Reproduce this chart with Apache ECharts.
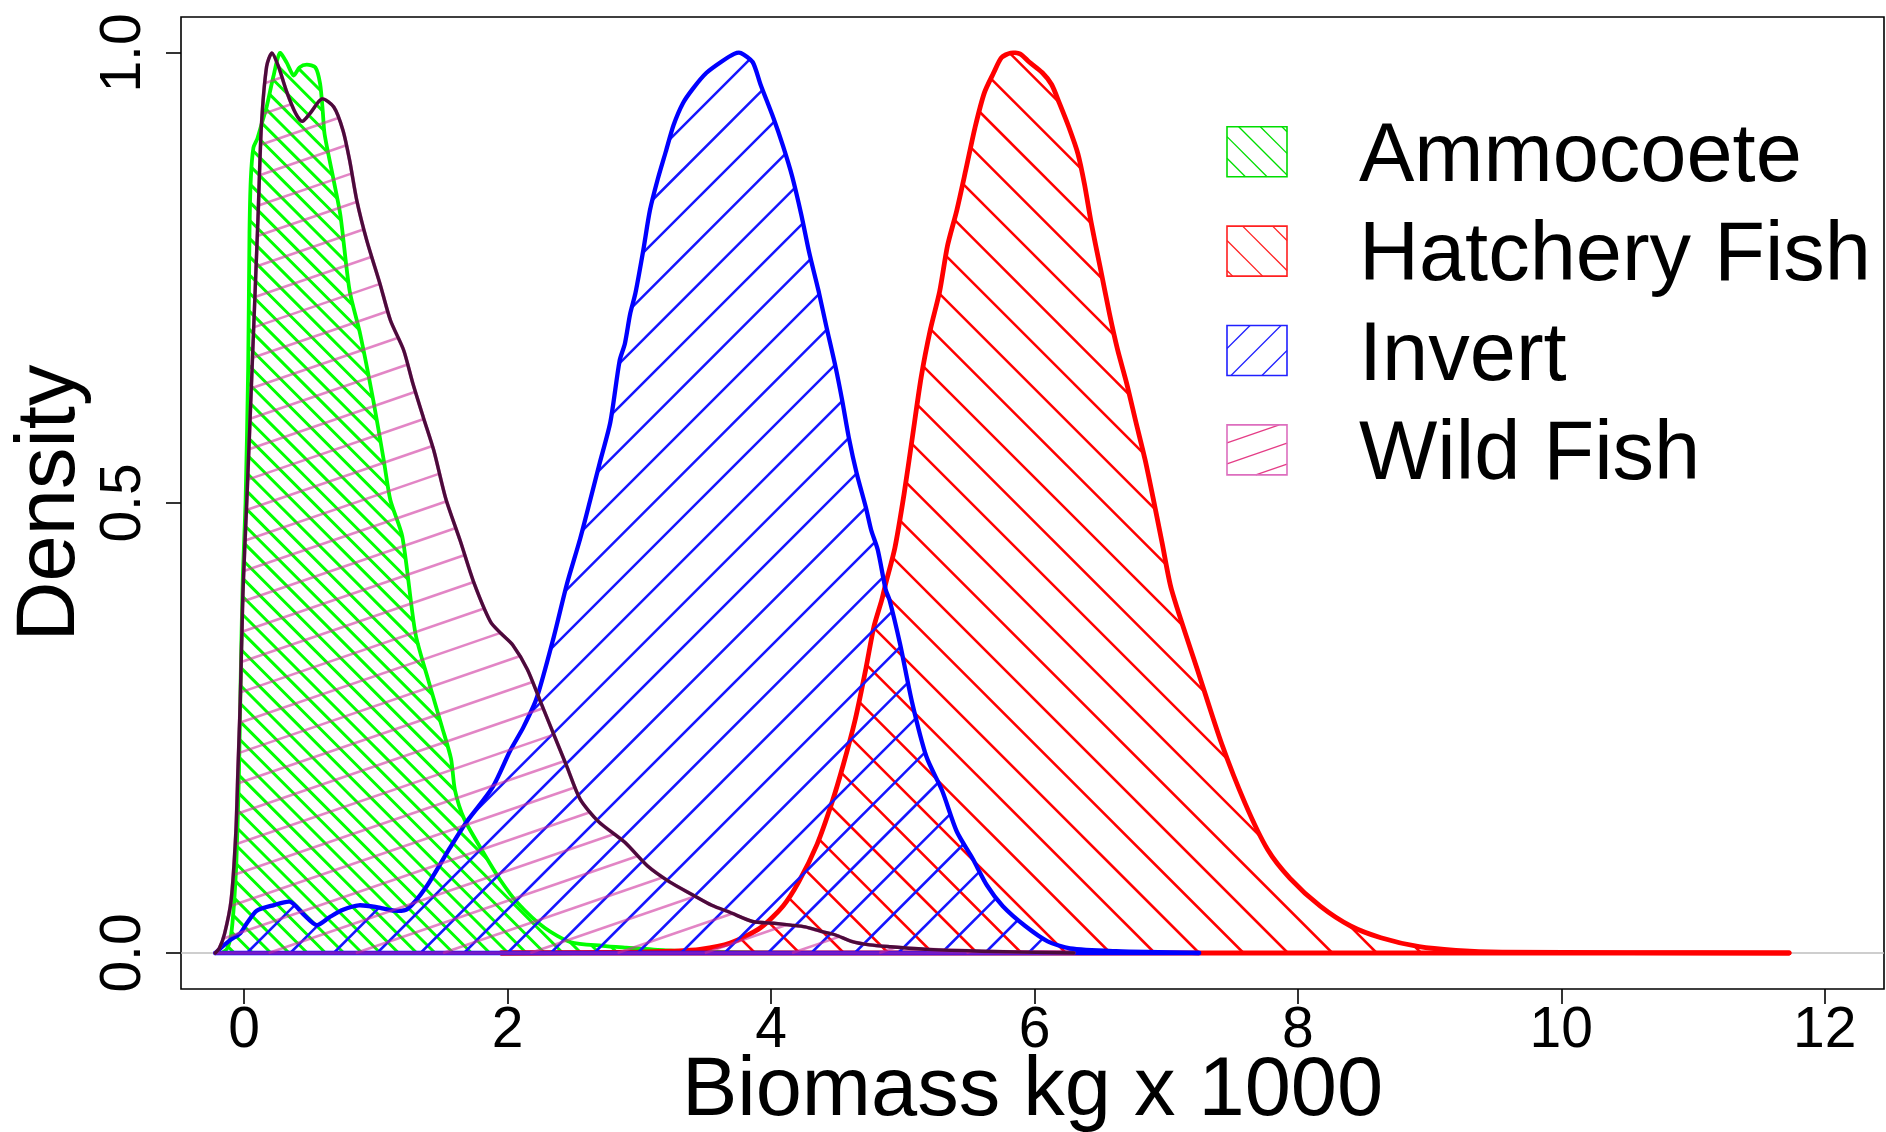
<!DOCTYPE html>
<html>
<head>
<meta charset="utf-8">
<script src="https://cdn.jsdelivr.net/npm/echarts@6/dist/echarts.min.js"></script>
<style>
html,body{margin:0;padding:0;background:#fff;}
#chart{width:1886px;height:1132px;}
</style>
</head>
<body>
<div id="chart"></div>
<script>
// ---------------- data ----------------
const xTicks = [0, 2, 4, 6, 8, 10, 12];
const yTicks = [0, 0.5, 1.0];
const seriesNames = ['Ammocoete', 'Hatchery Fish', 'Invert', 'Wild Fish'];
const xTitle = 'Biomass kg x 1000';
const yTitle = 'Density';

const ammocoeteX = [-0.17,-0.13,-0.10,-0.08,-0.06,-0.04,-0.025,-0.01,0.01,0.03,0.04,0.05,0.07,0.10,0.14,0.17,0.22,0.27,0.32,0.375,0.42,0.475,0.54,0.576,0.596,0.61,0.68,0.73,0.80,0.88,0.98,1.06,1.11,1.20,1.30,1.40,1.50,1.57,1.60,1.67,1.81,1.94,2.08,2.28,2.48,2.72,2.90,3.20,3.60,4.30];
const ammocoeteY = [0,0.005,0.02,0.05,0.10,0.20,0.32,0.42,0.50,0.65,0.80,0.86,0.895,0.905,0.925,0.94,0.973,1.0,0.99,0.975,0.984,0.987,0.984,0.966,0.936,0.91,0.858,0.82,0.736,0.688,0.614,0.547,0.503,0.463,0.355,0.302,0.252,0.216,0.181,0.149,0.113,0.082,0.055,0.028,0.012,0.008,0.006,0.003,0.001,0];

const hatcheryX = [1.95,3.0,3.24,3.46,3.69,3.92,4.09,4.21,4.35,4.46,4.55,4.64,4.72,4.78,4.84,4.87,4.94,5.01,5.07,5.14,5.21,5.28,5.34,5.41,5.48,5.55,5.62,5.69,5.75,5.82,5.89,5.96,6.06,6.13,6.19,6.26,6.33,6.38,6.43,6.50,6.57,6.63,6.70,6.77,6.84,6.90,6.97,7.04,7.25,7.42,7.60,7.77,7.94,8.17,8.40,8.63,8.92,9.20,9.55,10.5,11.73];
const hatcheryY = [0,0.001,0.002,0.004,0.011,0.028,0.052,0.079,0.121,0.166,0.21,0.26,0.316,0.362,0.392,0.41,0.45,0.51,0.57,0.64,0.693,0.735,0.786,0.825,0.871,0.918,0.956,0.978,0.995,1.0,0.999,0.99,0.978,0.965,0.944,0.918,0.888,0.854,0.812,0.761,0.71,0.671,0.633,0.59,0.548,0.506,0.455,0.404,0.309,0.233,0.166,0.115,0.083,0.052,0.03,0.017,0.007,0.003,0.001,0.0005,0];

const invertX = [-0.22,-0.11,-0.03,0.02,0.095,0.22,0.35,0.45,0.55,0.65,0.75,0.87,1.005,1.14,1.24,1.38,1.55,1.68,1.885,2.02,2.12,2.22,2.35,2.45,2.55,2.63,2.70,2.78,2.85,2.89,2.93,2.97,3.03,3.08,3.14,3.20,3.26,3.33,3.41,3.51,3.62,3.72,3.77,3.86,3.92,4.02,4.09,4.16,4.23,4.29,4.36,4.42,4.49,4.54,4.59,4.65,4.72,4.76,4.81,4.87,4.90,4.98,5.07,5.18,5.30,5.41,5.53,5.64,5.76,5.93,6.10,6.27,6.62,7.25];
const invertY = [0,0.014,0.022,0.033,0.047,0.053,0.057,0.043,0.031,0.04,0.048,0.053,0.051,0.047,0.049,0.073,0.114,0.144,0.184,0.225,0.251,0.283,0.351,0.41,0.46,0.505,0.545,0.59,0.658,0.677,0.71,0.733,0.781,0.825,0.86,0.89,0.92,0.944,0.961,0.978,0.99,0.999,1.0,0.99,0.965,0.927,0.897,0.863,0.82,0.778,0.736,0.696,0.651,0.614,0.573,0.533,0.495,0.47,0.448,0.404,0.392,0.343,0.279,0.218,0.18,0.135,0.105,0.075,0.052,0.03,0.013,0.005,0.002,0];

const wildX = [-0.22,-0.19,-0.15,-0.10,-0.064,-0.047,-0.03,-0.01,0.02,0.07,0.105,0.13,0.17,0.21,0.26,0.32,0.39,0.44,0.50,0.59,0.68,0.75,0.80,0.855,0.93,1.03,1.11,1.21,1.28,1.36,1.44,1.53,1.64,1.74,1.87,1.95,2.04,2.15,2.25,2.35,2.45,2.55,2.69,2.89,3.06,3.23,3.40,3.55,3.69,3.86,4.02,4.15,4.26,4.38,4.49,4.61,4.75,4.90,5.19,5.60,6.30];
const wildY = [0,0.005,0.021,0.058,0.133,0.207,0.28,0.40,0.503,0.688,0.818,0.918,0.985,1.0,0.985,0.958,0.933,0.924,0.933,0.949,0.94,0.914,0.881,0.836,0.792,0.744,0.703,0.67,0.633,0.595,0.558,0.505,0.458,0.413,0.368,0.355,0.342,0.315,0.279,0.243,0.207,0.171,0.146,0.123,0.097,0.079,0.065,0.053,0.045,0.035,0.033,0.031,0.029,0.024,0.02,0.013,0.009,0.007,0.004,0.002,0];

// ---------------- styles ----------------
const PINK = 'rgba(205,45,155,0.58)';
const styles = [
  { hatch:'#00FF00', hatchW:3.0, angle:-45, spacing:12.9, phase:[0.424,0.677], border:'#00FF00', borderW:3.8,
    lgBorder:'#00DD00', lgHatch:'#00DD00', lgSpacing:15.3, lgPhase:[11.7,0] },
  { hatch:'#FF0000', hatchW:2.5, angle:-45, spacing:31.4, phase:[0.17,0], border:'#FF0000', borderW:4.8,
    lgBorder:'#FF2020', lgHatch:'#FF2020', lgSpacing:21.2, lgPhase:[15.6,0] },
  { hatch:'#1515FF', hatchW:2.5, angle:45, spacing:30.7, phase:[0.02,0], border:'#0000FF', borderW:4.3,
    lgBorder:'#2020FF', lgHatch:'#2020FF', lgSpacing:21.9, lgPhase:[4,50] },
  { hatch:PINK, hatchW:2.6, angle:19, spacing:28.4, phase:[1.183,0.651], border:PINK, borderW:3.6,
    curve:'#4B0B3B', curveW:3.4,
    lgBorder:'#DD6EBE', lgHatch:'#E43C86', lgSpacing:19.8, lgPhase:[60,18.3] }
];
const dataSets = [[ammocoeteX, ammocoeteY],[hatcheryX, hatcheryY],[invertX, invertY],[wildX, wildY]];
const SMOOTH = 0.25;

// ---------------- hatch helper (pixel space) ----------------
function hatchLines(poly, angleDeg, spacing, phase) {
  const a = angleDeg * Math.PI / 180;
  const dx = Math.cos(a), dy = -Math.sin(a);
  const nx = -dy, ny = dx;
  const n = poly.length;
  let cmin = Infinity, cmax = -Infinity;
  const cs = poly.map(p => { const c = nx * p[0] + ny * p[1]; if (c < cmin) cmin = c; if (c > cmax) cmax = c; return c; });
  const c0 = nx * phase[0] + ny * phase[1];
  const k0 = Math.ceil((cmin - c0) / spacing), k1 = Math.floor((cmax - c0) / spacing);
  const segs = [];
  for (let k = k0; k <= k1; k++) {
    const c = c0 + k * spacing;
    const hits = [];
    for (let i = 0; i < n; i++) {
      const j = (i + 1) % n;
      const c1 = cs[i], c2 = cs[j];
      if ((c1 <= c && c2 > c) || (c2 <= c && c1 > c)) {
        const t = (c - c1) / (c2 - c1);
        const x = poly[i][0] + t * (poly[j][0] - poly[i][0]);
        const y = poly[i][1] + t * (poly[j][1] - poly[i][1]);
        hits.push([x, y, dx * x + dy * y]);
      }
    }
    hits.sort((p, q) => p[2] - q[2]);
    for (let m = 0; m + 1 < hits.length; m += 2) segs.push([hits[m][0], hits[m][1], hits[m + 1][0], hits[m + 1][1]]);
  }
  return segs;
}

function makeRenderer(xs, ys, st) {
  return function (params, api) {
    if (params.dataIndex !== 0) return null;
    const pts = xs.map((x, i) => api.coord([x, ys[i]]));
    const ph = api.coord(st.phase);
    const segs = hatchLines(pts, st.angle, st.spacing, ph);
    const children = segs.map(s => ({
      type: 'line', silent: true,
      shape: { x1: s[0], y1: s[1], x2: s[2], y2: s[3] },
      style: { stroke: st.hatch, lineWidth: st.hatchW, fill: 'none' }
    }));
    const first = pts[0], last = pts[pts.length - 1];
    children.push({ type: 'polyline', silent: true, shape: { points: pts, smooth: SMOOTH },
      style: { fill: 'none', stroke: st.border, lineWidth: st.borderW, lineJoin: 'round', lineCap: 'round' } });
    children.push({ type: 'line', silent: true, shape: { x1: last[0], y1: last[1], x2: first[0], y2: first[1] },
      style: { stroke: st.border, lineWidth: st.borderW, lineCap: 'round' } });
    if (st.curve) {
      children.push({ type: 'polyline', silent: true, shape: { points: pts, smooth: SMOOTH },
        style: { fill: 'none', stroke: st.curve, lineWidth: st.curveW, lineJoin: 'round', lineCap: 'round' } });
    }
    return { type: 'group', children };
  };
}

// ---------------- series ----------------
const series = [{
  type: 'custom', name: 'zero', coordinateSystem: 'cartesian2d', z: 1, silent: true,
  data: [[0, 0]],
  renderItem: function (params, api) {
    const cs = params.coordSys;
    const y = api.coord([0, 0])[1];
    return { type: 'line', shape: { x1: cs.x, y1: y, x2: cs.x + cs.width, y2: y },
      style: { stroke: '#BEBEBE', lineWidth: 1.5 } };
  }
}];
seriesNames.forEach((nm, i) => {
  const [xs, ys] = dataSets[i];
  series.push({
    type: 'custom', name: nm, coordinateSystem: 'cartesian2d', z: 2 + i, clip: true, silent: true,
    data: xs.map((x, k) => [x, ys[k]]),
    renderItem: makeRenderer(xs, ys, styles[i])
  });
});

// ---------------- legend (graphic) ----------------
const lg = { boxX: 1227, boxW: 60, boxH: 50, firstCY: 151.7, gap: 99.4, textX: 1359, textDY: 6.5, fontSize: 83 };
const graphic = [];
seriesNames.forEach((nm, i) => {
  const st = styles[i];
  const cy = lg.firstCY + i * lg.gap;
  const x0 = lg.boxX, y0 = cy - lg.boxH / 2;
  const rectPoly = [[x0, y0], [x0 + lg.boxW, y0], [x0 + lg.boxW, y0 + lg.boxH], [x0, y0 + lg.boxH]];
  const segs = hatchLines(rectPoly, st.angle, st.lgSpacing, [x0 + st.lgPhase[0], y0 + st.lgPhase[1]]);
  segs.forEach(s => graphic.push({ type: 'line', silent: true,
    shape: { x1: s[0], y1: s[1], x2: s[2], y2: s[3] },
    style: { stroke: st.lgHatch, lineWidth: 1.3 } }));
  graphic.push({ type: 'rect', silent: true, shape: { x: x0, y: y0, width: lg.boxW, height: lg.boxH },
    style: { fill: 'none', stroke: st.lgBorder, lineWidth: 1.6 } });
  graphic.push({ type: 'text', silent: true, x: lg.textX, y: cy + lg.textDY,
    style: { text: nm, font: lg.fontSize + 'px "Liberation Sans", Arial, sans-serif', fill: '#000',
      textAlign: 'left', textVerticalAlign: 'middle', align: 'left', verticalAlign: 'middle' } });
});

// ---------------- chart ----------------
const chart = echarts.init(document.getElementById('chart'), null, { renderer: 'canvas' });
const FONT = '"Liberation Sans", Arial, sans-serif';
chart.setOption({
  animation: false,
  backgroundColor: '#ffffff',
  grid: { left: 181, top: 17, width: 1703, height: 972, containLabel: false, outerBoundsMode: 'none',
    show: true, borderColor: '#000', borderWidth: 1.6, backgroundColor: 'transparent' },
  xAxis: {
    type: 'value', min: -0.48, max: 12.45,
    name: xTitle, nameLocation: 'middle', nameGap: 62, nameMoveOverlap: false,
    nameTextStyle: { fontSize: 83, fontFamily: FONT, color: '#000' },
    axisLine: { show: false, onZero: false },
    splitLine: { show: false },
    axisTick: { show: true, inside: false, length: 15, customValues: xTicks, lineStyle: { color: '#000', width: 1.6 } },
    axisLabel: { show: true, customValues: xTicks, margin: 14, fontSize: 57, fontFamily: FONT, color: '#000',
      formatter: v => String(v) }
  },
  yAxis: {
    type: 'value', min: -0.04, max: 1.04,
    name: yTitle, nameLocation: 'middle', nameGap: 88, nameRotate: 90, nameMoveOverlap: false,
    nameTextStyle: { fontSize: 83, fontFamily: FONT, color: '#000' },
    axisLine: { show: false, onZero: false },
    splitLine: { show: false },
    axisTick: { show: true, inside: false, length: 15, customValues: yTicks, lineStyle: { color: '#000', width: 1.6 } },
    axisLabel: { show: true, customValues: yTicks, margin: 28, rotate: 90, fontSize: 57, fontFamily: FONT, color: '#000',
      formatter: v => Number(v).toFixed(1) }
  },
  series: series,
  graphic: graphic
});
</script>
</body>
</html>
